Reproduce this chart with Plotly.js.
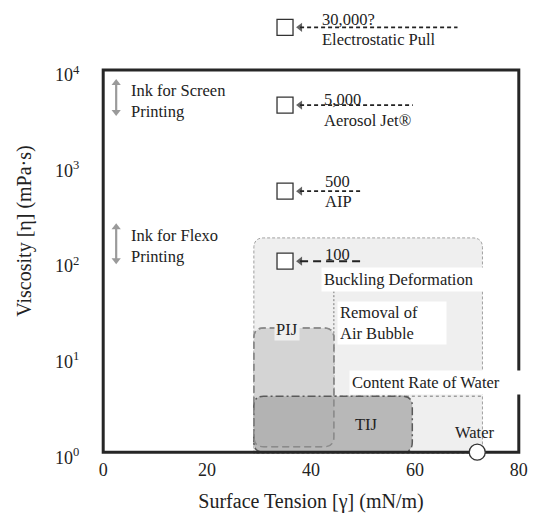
<!DOCTYPE html>
<html><head><meta charset="utf-8">
<script src="https://cdn.plot.ly/plotly-3.0.1.min.js"></script>
<style>html,body{margin:0;padding:0;background:#fff;} #chart{width:537px;height:521px;}</style>
</head><body><div id="chart"></div>
<script>
// ---- data ----
const methodLabels = ['30,000?', '5,000', '500', '100'];
const methodNames = ['Electrostatic Pull', 'Aerosol Jet®', 'AIP', 'Buckling Deformation'];
const methodTension = [35, 35, 35, 35];
const methodViscosity = [28000, 4300, 540, 100];
const arrowStartTension = [37.9, 37.9, 37.9, 37.9];
const arrowEndTension = [68.2, 59.6, 49.6, 50.2];

const regionNames = ['Printable', 'PIJ', 'TIJ'];
const regionTensionMin = [29, 29, 29];
const regionTensionMax = [73, 44.4, 59.5];
const regionViscMin = [0.97, 1.14, 1.0];
const regionViscMax = [175, 20, 3.86];

const airBubbleTension = 44.4;
const airBubbleViscRange = [48.5, 3.86];
const waterRateVisc = 3.86;

const waterTension = [72];
const waterVisc = [1];

const inkNames = ['Ink for Screen<br>Printing', 'Ink for Flexo<br>Printing'];
const inkTension = [2.5, 2.5];
const inkViscMin = [3630, 102];
const inkViscMax = [7310, 227];

const xTickVals = [0, 20, 40, 60, 80];
const yTickVals = [1, 10, 100, 1000, 10000];
const yTickText = ['10<sup>0</sup>', '10<sup>1</sup>', '10<sup>2</sup>', '10<sup>3</sup>', '10<sup>4</sup>'];

// ---- helpers ----
const FONT = 'Liberation Serif, Times New Roman, serif';
const TXT = '#222';
function py(p) { return (452 - p) / 95.5; }   // pixel row -> log10 viscosity (label placement)
function px(p) { return (p - 103) / 5.2; }     // pixel col -> tension (label placement)

function roundRect(x0, x1, y0, y1, roundBottom) {
  const rx = 1.9, k = 1.27;
  let p = `M${x0},${roundBottom ? y0 * k : y0} L${x0},${y1 / k} Q${x0},${y1} ${x0 + rx},${y1} ` +
          `L${x1 - rx},${y1} Q${x1},${y1} ${x1},${y1 / k} L${x1},${roundBottom ? y0 * k : y0} `;
  if (roundBottom) p += `Q${x1},${y0} ${x1 - rx},${y0} L${x0 + rx},${y0} Q${x0},${y0} ${x0},${y0 * k} `;
  else p += `L${x0},${y0} `;
  return p + 'Z';
}

// ---- traces ----
const traces = [];
methodViscosity.forEach((v, i) => {
  const last = i === 3;
  traces.push({
    x: [arrowStartTension[i], arrowEndTension[i]], y: [v, v], mode: 'lines+markers', type: 'scatter',
    line: { color: '#222', width: last ? 2 : 1.6, dash: last ? '8px,5px' : '4px,3px' },
    marker: { symbol: ['triangle-left', 'circle'], size: [8, 0.1], color: '#222', line: { width: 0 } },
    hoverinfo: 'skip', showlegend: false, cliponaxis: false
  });
});
traces.push({
  x: methodTension, y: methodViscosity, mode: 'markers', type: 'scatter', cliponaxis: false,
  marker: { symbol: 'square', size: 16, color: '#fff', line: { color: '#333', width: 1.3 } },
  showlegend: false, hoverinfo: 'skip'
});
traces.push({
  x: waterTension, y: waterVisc, mode: 'markers', type: 'scatter', cliponaxis: false,
  marker: { symbol: 'circle', size: 16, color: '#fff', line: { color: '#333', width: 1.3 } },
  showlegend: false, hoverinfo: 'skip'
});
inkTension.forEach((t, i) => traces.push({
  x: [t, t], y: [inkViscMin[i], inkViscMax[i]], mode: 'lines+markers', type: 'scatter',
  line: { color: '#9a9a9a', width: 2.2 },
  marker: { symbol: ['triangle-down', 'triangle-up'], size: 8, color: '#9a9a9a', line: { width: 0 } },
  showlegend: false, hoverinfo: 'skip'
}));

// ---- shapes ----
const shapes = [];
shapes.push({ type: 'path', layer: 'below', xref: 'x', yref: 'y',
  path: roundRect(regionTensionMin[0], regionTensionMax[0], regionViscMin[0], regionViscMax[0], false),
  fillcolor: '#efefef', line: { color: '#a0a0a0', width: 1, dash: '3px,2px' } });
shapes.push({ type: 'line', layer: 'below', xref: 'x', yref: 'y',
  x0: airBubbleTension, x1: airBubbleTension, y0: airBubbleViscRange[0], y1: airBubbleViscRange[1],
  line: { color: '#777', width: 1, dash: '2px,2px' } });
shapes.push({ type: 'line', layer: 'below', xref: 'x', yref: 'y',
  x0: airBubbleTension, x1: regionTensionMax[0], y0: waterRateVisc, y1: waterRateVisc,
  line: { color: '#777', width: 1, dash: '3px,3px' } });
shapes.push({ type: 'path', layer: 'below', xref: 'x', yref: 'y',
  path: roundRect(regionTensionMin[1], regionTensionMax[1], regionViscMin[1], regionViscMax[1], true),
  fillcolor: '#d4d4d4', line: { color: '#8a8a8a', width: 1.5, dash: '7px,4px' } });
shapes.push({ type: 'path', layer: 'below', xref: 'x', yref: 'y',
  path: roundRect(regionTensionMin[2], regionTensionMax[2], regionViscMin[2], regionViscMax[2], true),
  fillcolor: 'rgba(172,172,172,0.82)', line: { color: '#5a5a5a', width: 1.5, dash: '8px,3px,2px,3px' } });
shapes.push({ type: 'path', layer: 'below', xref: 'x', yref: 'y',
  path: roundRect(regionTensionMin[1], regionTensionMax[1], regionViscMin[1], regionViscMax[1], true),
  fillcolor: 'rgba(0,0,0,0)', line: { color: '#8a8a8a', width: 1.5, dash: '7px,4px' } });
shapes.push({ type: 'rect', layer: 'below', xref: 'x', yref: 'y',
  x0: 0, x1: 80, y0: 1, y1: 10000, line: { color: '#262626', width: 3 } });

// ---- annotations ----
const ann = [];
function txt(text, x, y, opts) {
  ann.push(Object.assign({ text, x, y, xref: 'x', yref: 'y', showarrow: false,
    xanchor: 'left', yanchor: 'middle', align: 'left',
    font: { family: FONT, size: 16.5, color: TXT } }, opts || {}));
}
const labelLeft = [px(320.5), px(322), px(323.5), px(323.5)];
const labelRow = [19, 99.5, 181, 254];
const nameRow = [39, 120, 201.7];
methodLabels.forEach((t, i) => txt(t, labelLeft[i], py(labelRow[i])));
for (let i = 0; i < 3; i++) txt(methodNames[i], labelLeft[i], py(nameRow[i]));
txt(methodNames[3], px(321.5), py(279), { bgcolor: '#fff', borderpad: 2, width: 158 });
txt('Removal of<br>Air Bubble', px(337), py(323), { bgcolor: '#fff', borderpad: 2, width: 104, height: 38 });
txt('Content Rate of Water', px(349), py(382), { bgcolor: '#fff', borderpad: 2, width: 173 });
txt(regionNames[1], px(287), py(329), { xanchor: 'center', bgcolor: '#efefef', borderpad: 1 });
txt(regionNames[2], px(366.5), py(424), { xanchor: 'center' });
txt('Water', px(475), py(432), { xanchor: 'center' });
inkNames.forEach((t, i) => txt(t, px(129), py(i === 0 ? 100.5 : 245.7)));

const layout = {
  width: 537, height: 521,
  margin: { l: 97.8, r: 12.8, t: 5, b: 64.2 },
  paper_bgcolor: '#fff', plot_bgcolor: '#fff',
  font: { family: FONT, size: 18, color: TXT },
  showlegend: false,
  xaxis: {
    range: [-1, 81], tickvals: xTickVals, showgrid: false, zeroline: false, showline: false,
    ticks: '', ticklabelstandoff: 0,
    tickfont: { family: FONT, size: 18, color: TXT },
    title: { text: 'Surface Tension [γ] (mN/m)', font: { family: FONT, size: 20, color: TXT }, standoff: 14 },
    automargin: false
  },
  yaxis: {
    type: 'log', range: [-0.05, 4.681], tickvals: yTickVals, ticktext: yTickText,
    showgrid: false, zeroline: false, showline: false,
    ticks: 'outside', ticklen: 14, tickcolor: 'rgba(0,0,0,0)', ticklabelshift: 5,
    tickfont: { family: FONT, size: 18, color: TXT },
    title: { text: 'Viscosity [η] (mPa·s)', font: { family: FONT, size: 20, color: TXT }, standoff: 18 },
    automargin: false
  },
  shapes, annotations: ann
};
Plotly.newPlot('chart', traces, layout, { staticPlot: true, displayModeBar: false });
</script>
</body></html>
